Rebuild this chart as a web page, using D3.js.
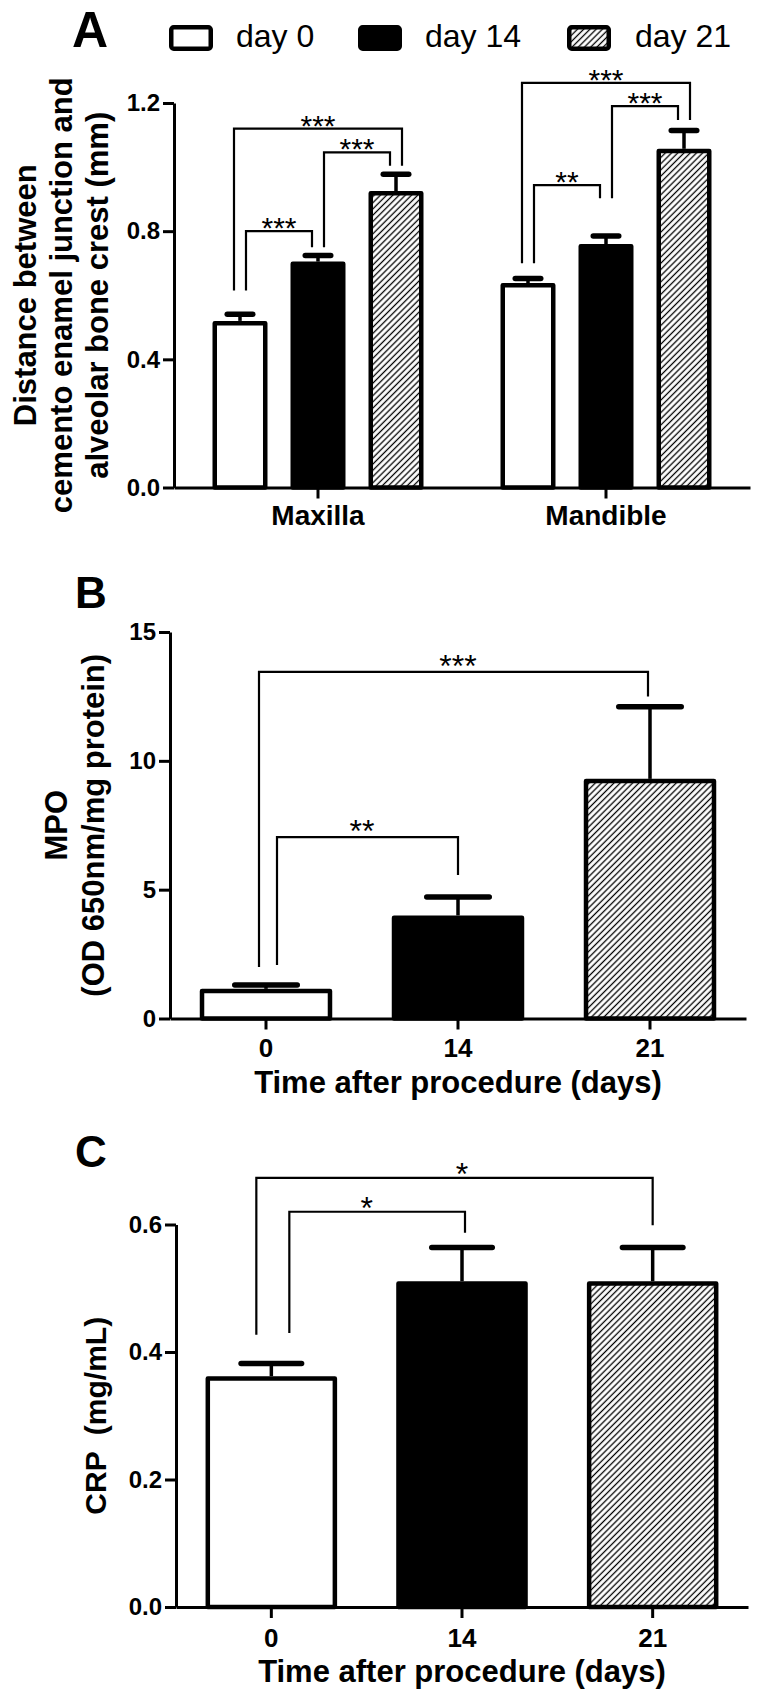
<!DOCTYPE html>
<html><head><meta charset="utf-8">
<script src="https://cdn.jsdelivr.net/npm/d3@7"></script>
<style>
html,body{margin:0;padding:0;background:#fff;}
svg{display:block;}
</style></head><body>
<svg id="chart" width="759" height="1691"></svg>
<script>
// ---------------- data ----------------
const seriesNames = ["day 0", "day 14", "day 21"];

// Panel A
const aGroups = ["Maxilla", "Mandible"];
const aMaxillaMean = [0.520, 0.705, 0.925];
const aMaxillaErr  = [0.021, 0.019, 0.053];
const aMandibleMean = [0.638, 0.760, 1.057];
const aMandibleErr  = [0.014, 0.025, 0.057];
const aTicks = [0, 0.4, 0.8, 1.2];
// [group, fromBar, toBar, level, leftFoot, rightFoot, label]
const aBrackets = [
  ["Maxilla", 0, 1, 0.800, 0.615, 0.750, "***"],
  ["Maxilla", 1, 2, 1.046, 0.750, 1.004, "***"],
  ["Maxilla", 0, 2, 1.120, 0.615, 1.004, "***"],
  ["Mandible", 0, 1, 0.944, 0.700, 0.903, "**"],
  ["Mandible", 1, 2, 1.190, 0.903, 1.147, "***"],
  ["Mandible", 0, 2, 1.263, 0.700, 1.147, "***"]
];

// Panel B
const bDays = ["0", "14", "21"];
const bMean = [1.15, 4.00, 9.30];
const bErr  = [0.15, 0.72, 2.80];
const bTicks = [0, 5, 10, 15];
// [fromBar, toBar, level, leftFoot, rightFoot, label]
const bBrackets = [
  [0, 2, 13.45, 2.00, 12.50, "***"],
  [0, 1, 7.04, 2.08, 5.57, "**"]
];

// Panel C
const cDays = ["0", "14", "21"];
const cMean = [0.362, 0.511, 0.511];
const cErr  = [0.020, 0.053, 0.053];
const cTicks = [0, 0.2, 0.4, 0.6];
const cBrackets = [
  [0, 2, 0.673, 0.427, 0.599, "*"],
  [0, 1, 0.620, 0.430, 0.587, "*"]
];

// ---------------- drawing ----------------
const FONT = "'Liberation Sans', Arial, Helvetica, sans-serif";
const svg = d3.select("#chart").attr("font-family", FONT);

const defs = svg.append("defs");
const P = 4.4;
const pat = defs.append("pattern").attr("id", "hatch")
  .attr("patternUnits", "userSpaceOnUse")
  .attr("width", P).attr("height", P)
  .attr("patternTransform", "rotate(45)");
pat.append("rect").attr("width", P).attr("height", P).attr("fill", "#fff");
pat.append("line").attr("x1", P / 2).attr("x2", P / 2).attr("y1", -1).attr("y2", P + 1)
  .attr("stroke", "#000").attr("stroke-width", 1.3);

const fills = ["#fff", "#000", "url(#hatch)"];
const BAR_SW = 4.5;

function drawBar(g, cx, bw, y, v, e, si, capW) {
  // error bar (upper only)
  g.append("line").attr("x1", cx).attr("x2", cx)
    .attr("y1", y(v)).attr("y2", y(v + e))
    .attr("stroke", "#000").attr("stroke-width", 3.5);
  g.append("line").attr("x1", cx - capW / 2 + 2.75).attr("x2", cx + capW / 2 - 2.75)
    .attr("y1", y(v + e)).attr("y2", y(v + e))
    .attr("stroke", "#000").attr("stroke-width", 5.5).attr("stroke-linecap", "round");
  g.append("rect")
    .attr("x", cx - bw / 2 + BAR_SW / 2)
    .attr("y", y(v) + BAR_SW / 2)
    .attr("width", bw - BAR_SW)
    .attr("height", y(0) - y(v) - BAR_SW / 2)
    .attr("fill", fills[si]).attr("stroke", "#000")
    .attr("stroke-width", BAR_SW).attr("stroke-linejoin", "round");
}

function drawYAxis(g, y, x0, ticks, fmt) {
  const ax = g.append("g").attr("transform", `translate(${x0},0)`)
    .call(d3.axisLeft(y).tickValues(ticks).tickFormat(fmt).tickSize(11).tickSizeOuter(0).tickPadding(3));
  ax.attr("font-family", FONT);
  ax.select(".domain").attr("stroke", "#000").attr("stroke-width", 3);
  ax.selectAll(".tick line").attr("stroke", "#000").attr("stroke-width", 3);
  ax.selectAll(".tick text").attr("font-size", 24).attr("font-weight", "bold").attr("fill", "#000");
}

function drawXAxis(g, x, y0, labelY, fontSize) {
  const ax = g.append("g").attr("transform", `translate(0,${y0})`)
    .call(d3.axisBottom(x).tickSize(11).tickSizeOuter(0));
  ax.attr("font-family", FONT);
  ax.select(".domain").attr("stroke", "#000").attr("stroke-width", 3);
  ax.selectAll(".tick line").attr("stroke", "#000").attr("stroke-width", 3);
  ax.selectAll(".tick text").attr("font-size", fontSize).attr("font-weight", "bold")
    .attr("fill", "#000").attr("y", labelY).attr("dy", 0);
}

function drawBracket(g, xl, xr, y, level, lf, rf, label, starSize, starDy, starX) {
  g.append("path")
    .attr("d", `M${xl},${y(lf)}V${y(level)}H${xr}V${y(rf)}`)
    .attr("fill", "none").attr("stroke", "#000").attr("stroke-width", 2.2);
  g.append("text").attr("x", starX).attr("y", y(level) + starDy)
    .attr("text-anchor", "middle").attr("font-size", starSize).text(label);
}

function yTitle(g, lines, xs, cy, size) {
  lines.forEach((t, i) => {
    g.append("text").attr("transform", `translate(${xs[i]},${cy}) rotate(-90)`)
      .attr("text-anchor", "middle").attr("font-size", size).attr("font-weight", "bold")
      .style("white-space", "pre").text(t);
  });
}

// ---------- Panel A ----------
{
  const g = svg.append("g");
  const y = d3.scaleLinear().domain([0, 1.2]).range([487.5, 103]);
  const x0 = d3.scaleBand().domain(aGroups).range([174, 750]);
  const x1 = d3.scaleBand().domain(seriesNames).range([-105.5, 105.5]).paddingInner(0.295);
  const means = [aMaxillaMean, aMandibleMean];
  const errs = [aMaxillaErr, aMandibleErr];
  const cxOf = (grp, i) => x0(grp) + x0.bandwidth() / 2 + x1(seriesNames[i]) + x1.bandwidth() / 2;

  aGroups.forEach((grp, gi) => {
    seriesNames.forEach((s, si) => {
      drawBar(g, cxOf(grp, si), x1.bandwidth(), y, means[gi][si], errs[gi][si], si, 31);
    });
  });
  drawYAxis(g, y, 174, aTicks, d3.format(".1f"));
  drawXAxis(g, x0, 487.5, 37.5, 28);

  const legOffsets = [[6, -6], [6, -6], [-6, 6]];
  aBrackets.forEach((b, i) => {
    const [grp, f, t, lev, lf, rf, lab] = b;
    const off = legOffsets[i % 3];
    const xl = cxOf(grp, f) + off[0], xr = cxOf(grp, t) + off[1];
    drawBracket(g, xl, xr, y, lev, lf, rf, lab, 30, 7, (cxOf(grp, f) + cxOf(grp, t)) / 2);
  });

  yTitle(g, ["Distance between", "cemento enamel junction and", "alveolar bone crest (mm)"],
    [36, 72, 108], (y(0) + y(1.2)) / 2, 31);

  g.append("text").attr("x", 72).attr("y", 47).attr("font-size", 50).attr("font-weight", "bold").text("A");

  // legend
  const legBoxX = [169, 358, 567], legTextX = [236, 425, 635];
  seriesNames.forEach((s, i) => {
    g.append("rect").attr("x", legBoxX[i] + 2.25).attr("y", 27.25)
      .attr("width", 44 - 4.5).attr("height", 26 - 4.5).attr("rx", 2.5)
      .attr("fill", fills[i]).attr("stroke", "#000").attr("stroke-width", 4.5)
      .attr("stroke-linejoin", "round");
    g.append("text").attr("x", legTextX[i]).attr("y", 47).attr("font-size", 32).text(s);
  });
}

// ---------- Panel B ----------
{
  const g = svg.append("g");
  const y = d3.scaleLinear().domain([0, 15]).range([1018.5, 632]);
  const x = d3.scaleBand().domain(bDays).range([170, 746]).paddingInner(0.31).paddingOuter(0.155);
  const cx = i => x(bDays[i]) + x.bandwidth() / 2;
  bDays.forEach((d, i) => drawBar(g, cx(i), x.bandwidth(), y, bMean[i], bErr[i], i, 68));
  drawYAxis(g, y, 170, bTicks, d3.format("d"));
  drawXAxis(g, x, 1018.5, 38.5, 26);
  const legOffsets = [[-7, -2], [11, 0]];
  bBrackets.forEach((b, i) => {
    const [f, t, lev, lf, rf, lab] = b;
    drawBracket(g, cx(f) + legOffsets[i][0], cx(t) + legOffsets[i][1], y, lev, lf, rf, lab, 32, 5, (cx(f) + cx(t)) / 2);
  });
  yTitle(g, ["MPO", "(OD 650nm/mg protein)"], [67, 104], (y(0) + y(15)) / 2, 31);
  g.append("text").attr("x", (170 + 746) / 2).attr("y", 1093).attr("text-anchor", "middle")
    .attr("font-size", 31).attr("font-weight", "bold").text("Time after procedure (days)");
  g.append("text").attr("x", 75).attr("y", 608).attr("font-size", 44).attr("font-weight", "bold").text("B");
}

// ---------- Panel C ----------
{
  const g = svg.append("g");
  const y = d3.scaleLinear().domain([0, 0.6]).range([1607, 1224.5]);
  const x = d3.scaleBand().domain(cDays).range([176, 748]).paddingInner(0.31).paddingOuter(0.155);
  const cx = i => x(cDays[i]) + x.bandwidth() / 2;
  cDays.forEach((d, i) => drawBar(g, cx(i), x.bandwidth(), y, cMean[i], cErr[i], i, 66));
  drawYAxis(g, y, 176, cTicks, d3.format(".1f"));
  drawXAxis(g, x, 1607, 40, 26);
  const legOffsets = [[-15, 0], [18, 3]];
  cBrackets.forEach((b, i) => {
    const [f, t, lev, lf, rf, lab] = b;
    drawBracket(g, cx(f) + legOffsets[i][0], cx(t) + legOffsets[i][1], y, lev, lf, rf, lab, 32, 7, (cx(f) + cx(t)) / 2);
  });
  yTitle(g, ["CRP  (mg/mL)"], [106], (y(0) + y(0.6)) / 2, 30);
  g.append("text").attr("x", (176 + 748) / 2).attr("y", 1682).attr("text-anchor", "middle")
    .attr("font-size", 31).attr("font-weight", "bold").text("Time after procedure (days)");
  g.append("text").attr("x", 75).attr("y", 1167).attr("font-size", 44).attr("font-weight", "bold").text("C");
}
</script>
</body></html>
